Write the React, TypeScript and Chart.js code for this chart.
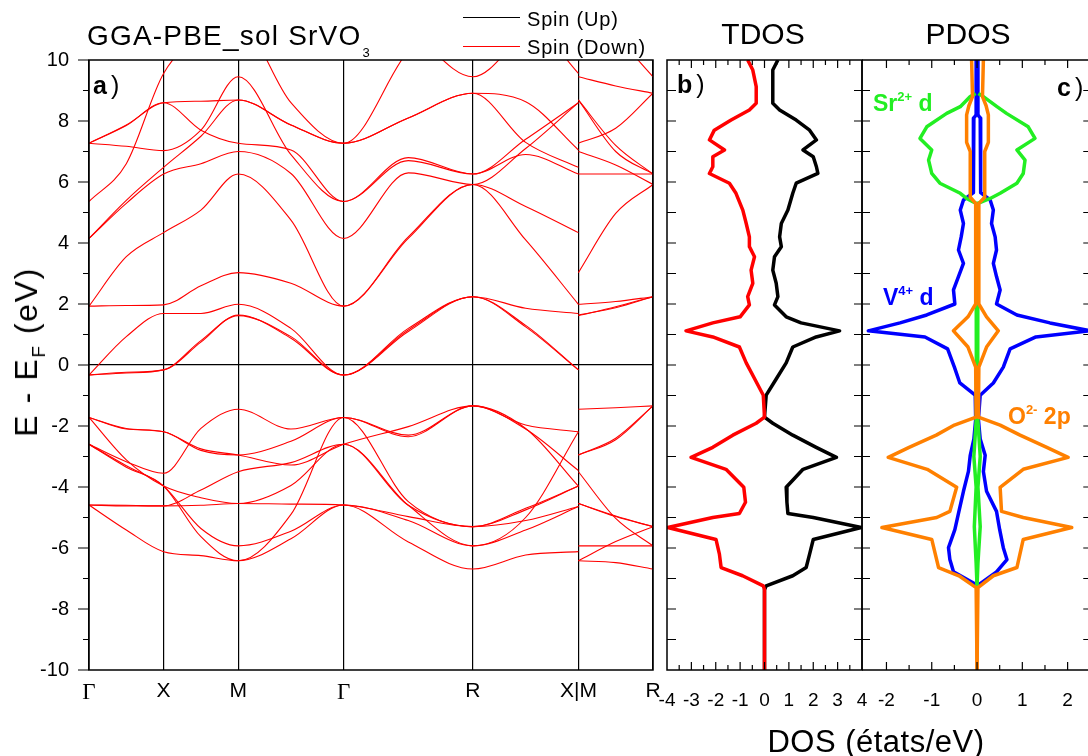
import React, { useEffect, useRef } from "react";
import { Chart, registerables } from "chart.js";
Chart.register(...registerables);

const SANS = '"Liberation Sans", Arial, Helvetica, sans-serif';
const NARROW = '"Liberation Sans Narrow", "Liberation Sans", Arial, sans-serif';
const SERIF = '"Liberation Serif", "Times New Roman", serif';
const RED = "#ff0000";
const GREEN = "#22ee22";
const BLUE = "#0000ff";
const ORANGE = "#ff8000";

// ---------- band structure: k-path Γ-X-M-Γ-R-X | M-R ----------
const kPathMain = [0, 0.5, 1, 1.5, 2, 2.707, 3.414, 4.28, 5.146, 5.853, 6.56];
const kPathMR = [6.56, 7.06, 7.56];
const kTickPos = [0, 1, 2, 3.414, 5.146, 6.56, 7.56];
const kTickLabels = ["Γ", "X", "M", "Γ", "R", "X|M", "R"];
const energyTicks = [10, 8, 6, 4, 2, 0, -2, -4, -6, -8, -10];

// energies (eV) at nodes: Γ, ½ΓX, X, ½XM, M, ½MΓ, Γ, ½ΓR, R, ½RX, X
const bandsMain: number[][] = [
  [-0.33, 0.93, 1.69, 1.69, 1.99, 1.2, -0.33, 1.2, 2.24, 1.86, 1.69],
  [-0.33, -0.26, -0.16, 0.8, 1.62, 0.93, -0.33, 1.15, 2.24, 1.3, -0.16],
  [-0.33, -0.24, -0.16, 0.75, 1.64, 0.88, -0.33, 1.1, 2.24, 1.25, -0.16],
  [1.93, 1.95, 1.97, 2.6, 3.03, 2.68, 1.93, 4.2, 5.92, 4.1, 1.99],
  [1.93, 3.55, 4.34, 5.08, 6.26, 4.75, 1.93, 4.15, 5.92, 5.2, 4.34],
  [4.15, 5.3, 6.26, 6.6, 7.0, 6.28, 4.15, 6.3, 5.92, 7.1, 8.6],
  [4.15, 5.4, 6.48, 7.5, 8.69, 7.87, 7.27, 8.1, 8.91, 7.3, 6.48],
  [5.36, 6.6, 9.56, 10.8, 11.2, 8.6, 7.27, 10.3, 12, 11.5, 9.56],
  [7.27, 7.17, 7.03, 7.7, 9.45, 6.9, 5.36, 6.8, 6.26, 7.4, 8.6],
  [7.27, 7.87, 8.6, 8.65, 8.69, 7.87, 7.27, 8.1, 8.91, 8.63, 7.05],
  [7.27, 7.85, 8.6, 7.7, 7.27, 7.05, 5.36, 6.7, 6.26, 6.9, 6.26],
  [12, 12, 12, 12, 12, 12, 12, 11.0, 9.45, 10.9, 12],
  [-1.72, -2.08, -2.19, -2.75, -2.95, -3.28, -2.6, -2.02, -1.34, -1.97, -2.19],
  [-1.72, -2.1, -2.19, -2.8, -2.95, -2.5, -1.72, -4.48, -5.3, -4.7, -3.97],
  [-2.6, -3.17, -3.55, -2.08, -1.45, -2.1, -1.72, -2.35, -1.34, -2.08, -3.97],
  [-1.72, -3.11, -3.97, -4.35, -4.54, -3.95, -2.6, -4.6, -5.93, -5.0, -2.19],
  [-2.6, -3.3, -3.97, -5.36, -5.93, -5.45, -4.59, -5.1, -5.93, -5.41, -4.64],
  [-2.6, -3.35, -3.97, -5.63, -6.42, -4.9, -1.72, -2.3, -1.34, -2.1, -3.46],
  [-4.59, -4.6, -4.62, -4.6, -4.54, -4.56, -4.59, -4.97, -5.3, -5.1, -4.64],
  [-4.59, -4.62, -4.62, -4.1, -3.5, -3.2, -2.6, -4.6, -5.3, -4.75, -3.97],
  [-4.59, -5.41, -6.12, -6.25, -6.42, -5.7, -4.59, -5.8, -6.69, -6.23, -6.12],
];

// energies (eV) at nodes: M, ½MR, R
const bandsMR: number[][] = [
  [1.99, 2.08, 2.24],
  [1.62, 1.91, 2.24],
  [1.64, 1.88, 2.24],
  [3.03, 4.97, 5.92],
  [6.26, 6.26, 6.26],
  [7.0, 6.56, 5.92],
  [8.69, 7.0, 6.26],
  [12, 10.8, 9.45],
  [9.45, 9.15, 8.91],
  [8.69, 7.2, 6.26],
  [7.27, 7.76, 8.91],
  [-2.95, -2.4, -1.34],
  [-2.95, -2.45, -1.34],
  [-1.45, -1.4, -1.34],
  [-4.54, -4.95, -5.3],
  [-5.93, -5.93, -5.93],
  [-6.42, -5.79, -5.3],
  [-4.54, -4.97, -5.3],
  [-3.5, -5.03, -5.93],
  [-6.42, -6.48, -6.69],
];

// ---------- TDOS ----------
const tdosEnergy = [10, 9.67, 9.13, 8.58, 8.36, 8.03, 7.7, 7.38, 7.05, 6.83, 6.5, 6.28, 5.96, 5.63, 5.08, 4.64, 4.2, 3.88, 3.55, 3.11, 2.68, 2.24, 1.97, 1.58, 1.38, 1.12, 0.92, 0.59, 0.07, -0.46, -0.99, -1.71, -1.91, -2.3, -2.7, -3.03, -3.42, -4.01, -4.5, -4.87, -5.0, -5.33, -5.72, -6.2, -6.64, -6.91, -7.24, -7.37, -10];
const tdosUp = [0.55, 0.34, 0.34, 0.34, 0.62, 1.3, 1.85, 2.13, 1.58, 2.0, 2.13, 2.19, 1.3, 1.16, 0.96, 0.69, 0.62, 0.69, 0.41, 0.34, 0.48, 0.55, 0.41, 0.89, 1.5, 3.08, 2.12, 1.16, 0.89, 0.48, 0.07, 0, 0.34, 1.16, 2.12, 2.95, 1.58, 0.89, 0.92, 0.96, 2.0, 3.97, 2.0, 1.85, 1.71, 1.16, 0.07, 0, 0];
const tdosDown = [-0.69, -0.48, -0.34, -0.34, -0.62, -1.37, -2.06, -2.26, -1.64, -2.12, -2.12, -2.26, -1.44, -1.17, -0.89, -0.75, -0.62, -0.62, -0.41, -0.55, -0.48, -0.69, -0.62, -1.0, -2.12, -3.22, -2.12, -1.03, -0.75, -0.4, -0.05, 0, -0.34, -1.3, -2.12, -3.01, -1.58, -0.85, -0.78, -1.03, -2.12, -3.97, -1.99, -1.85, -1.78, -0.9, -0.05, 0, 0];
const tdosTicks = [-4, -3, -2, -1, 0, 1, 2, 3, 4];

// ---------- PDOS ----------
const srEnergy = [8.9, 8.8, 8.47, 8.25, 7.81, 7.43, 7.05, 6.72, 6.28, 5.96, 5.63, 5.46, 5.3, 4.0, 2.0, 1.1, 0.0, -1.7, -3.0, -4.0, -5.3, -6.5, -7.25];
const srUp = [0.03, 0.14, 0.44, 0.65, 1.13, 1.28, 0.88, 1.06, 1.02, 0.88, 0.51, 0.29, 0.02, 0.02, 0.01, 0.02, 0.01, 0.01, 0.07, 0.02, 0.07, 0.02, 0];
const srDown = [-0.03, -0.15, -0.37, -0.67, -1.11, -1.26, -1.0, -1.07, -1.0, -0.82, -0.37, -0.23, -0.02, -0.02, -0.01, -0.02, -0.01, -0.01, -0.07, -0.02, -0.06, -0.02, 0];

const vEnergy = [10, 8.2, 8.1, 5.65, 5.41, 5.08, 4.64, 4.2, 3.77, 3.33, 2.9, 2.46, 2.0, 1.64, 1.38, 1.12, 0.92, 0.53, -0.07, -0.59, -0.99, -1.78, -2.43, -2.96, -3.49, -4.14, -4.8, -5.4, -5.99, -6.38, -6.78, -7.17, -7.3];
const vUp = [0.02, 0.02, 0.07, 0.08, 0.29, 0.36, 0.32, 0.4, 0.43, 0.36, 0.43, 0.51, 0.43, 0.88, 1.61, 2.5, 1.3, 0.73, 0.58, 0.36, 0.07, 0.03, 0.07, 0.18, 0.14, 0.21, 0.43, 0.5, 0.58, 0.66, 0.43, 0.07, 0];
const vDown = [-0.02, -0.02, -0.07, -0.08, -0.3, -0.37, -0.3, -0.35, -0.41, -0.3, -0.41, -0.52, -0.49, -1.11, -1.7, -2.4, -1.15, -0.65, -0.5, -0.38, -0.04, -0.03, -0.07, -0.15, -0.19, -0.3, -0.4, -0.49, -0.63, -0.6, -0.52, -0.05, 0];

const oEnergy = [10, 8.8, 8.5, 8.2, 7.3, 7.0, 5.5, 5.3, 2.0, 1.58, 1.12, 0.59, -0.07, -1.71, -1.97, -2.3, -2.7, -3.03, -3.42, -4.01, -4.8, -5.0, -5.33, -5.72, -6.64, -6.91, -7.3, -10];
const oUp = [0.14, 0.12, 0.2, 0.25, 0.25, 0.17, 0.17, 0.04, 0.04, 0.21, 0.47, 0.21, 0.04, 0.03, 0.51, 0.95, 1.54, 2.01, 1.02, 0.51, 0.54, 1.02, 2.09, 1.02, 0.88, 0.36, 0.02, 0];
const oDown = [-0.12, -0.1, -0.18, -0.23, -0.23, -0.15, -0.15, -0.03, -0.03, -0.2, -0.52, -0.2, -0.03, -0.02, -0.5, -0.9, -1.5, -1.96, -1.1, -0.45, -0.6, -0.89, -2.1, -1.0, -0.85, -0.4, -0.02, 0];
const pdosTicks = [-2, -1, 0, 1, 2];

// ---------- helpers ----------
function bandLine(ks: number[], es: number[]) {
  return {
    data: ks.map((k, i) => ({ x: k, y: es[i] })),
    showLine: true,
    borderColor: RED,
    borderWidth: 1.1,
    pointRadius: 0,
    fill: false,
    cubicInterpolationMode: "monotone",
  };
}

function dosLine(es: number[], vs: number[], color: string) {
  return {
    data: es.map((e, i) => ({ x: vs[i], y: e })),
    showLine: true,
    borderColor: color,
    borderWidth: 3.5,
    borderJoinStyle: "round",
    pointRadius: 0,
    fill: false,
    tension: 0,
  };
}

const TRANSPARENT = "rgba(0,0,0,0)";

const frameA = {
  id: "frameA",
  afterDraw(chart: any) {
    const { ctx, chartArea: a, scales } = chart;
    const y = scales.y;
    ctx.save();
    ctx.strokeStyle = "#000";
    ctx.lineWidth = 1.5;
    ctx.strokeRect(a.left, a.top, a.right - a.left, a.bottom - a.top);
    ctx.lineWidth = 1.2;
    ctx.beginPath();
    for (let v = -10; v <= 10; v += 1) {
      const py = y.getPixelForValue(v);
      const len = v % 2 === 0 ? 11 : 6;
      ctx.moveTo(a.left - len, py);
      ctx.lineTo(a.left, py);
    }
    ctx.stroke();
    ctx.restore();
  },
};

const frameB = {
  id: "frameB",
  afterDraw(chart: any) {
    const { ctx, chartArea: a, scales } = chart;
    const { x, y } = scales;
    ctx.save();
    ctx.strokeStyle = "#000";
    ctx.lineWidth = 1.5;
    ctx.strokeRect(a.left, a.top, a.right - a.left, a.bottom - a.top);
    ctx.lineWidth = 1.2;
    ctx.beginPath();
    for (let v = -9; v <= 9; v += 1) {
      const py = y.getPixelForValue(v);
      ctx.moveTo(a.left, py);
      ctx.lineTo(a.left + 9, py);
      ctx.moveTo(a.right - 8, py);
      ctx.lineTo(a.right + 8, py);
    }
    for (let t = -3.5; t <= 3.5; t += 0.5) {
      const px = x.getPixelForValue(t);
      const len = Number.isInteger(t) ? 8 : 5;
      ctx.moveTo(px, a.top);
      ctx.lineTo(px, a.top + len);
      ctx.moveTo(px, a.bottom);
      ctx.lineTo(px, a.bottom - len);
    }
    ctx.stroke();
    ctx.restore();
  },
};

const frameC = {
  id: "frameC",
  afterDraw(chart: any) {
    const { ctx, chartArea: a, scales } = chart;
    const { x, y } = scales;
    const rx = x.getPixelForValue(2.5);
    ctx.save();
    ctx.strokeStyle = "#000";
    ctx.lineWidth = 1.5;
    ctx.beginPath();
    ctx.moveTo(a.left, a.top);
    ctx.lineTo(rx, a.top);
    ctx.moveTo(a.left, a.bottom);
    ctx.lineTo(rx, a.bottom);
    ctx.moveTo(a.left, a.top);
    ctx.lineTo(a.left, a.bottom);
    ctx.moveTo(rx, a.top);
    ctx.lineTo(rx, a.bottom);
    ctx.stroke();
    ctx.lineWidth = 1.2;
    ctx.beginPath();
    for (let v = -9; v <= 9; v += 1) {
      const py = y.getPixelForValue(v);
      ctx.moveTo(rx - 7, py);
      ctx.lineTo(rx, py);
    }
    for (let t = -2; t <= 2; t += 0.5) {
      const px = x.getPixelForValue(t);
      const len = Number.isInteger(t) ? 8 : 5;
      ctx.moveTo(px, a.top);
      ctx.lineTo(px, a.top + len);
      ctx.moveTo(px, a.bottom);
      ctx.lineTo(px, a.bottom - len);
    }
    ctx.stroke();
    ctx.restore();
  },
};

const baseOptions = {
  animation: false,
  responsive: false,
  maintainAspectRatio: false,
  events: [],
  plugins: { legend: { display: false }, tooltip: { enabled: false } },
};

function configBands(): any {
  const datasets: any[] = [];
  bandsMain.forEach((b) => datasets.push(bandLine(kPathMain, b)));
  bandsMR.forEach((b) => datasets.push(bandLine(kPathMR, b)));
  return {
    type: "scatter",
    data: { datasets },
    options: {
      ...baseOptions,
      layout: { padding: { left: 0, right: 27, top: 60, bottom: 0 } },
      scales: {
        x: {
          type: "linear",
          min: 0,
          max: 7.56,
          afterBuildTicks: (s: any) => {
            s.ticks = kTickPos.map((v) => ({ value: v }));
          },
          afterFit: (s: any) => {
            s.height = 86;
          },
          ticks: {
            autoSkip: false,
            maxRotation: 0,
            minRotation: 0,
            padding: 0,
            color: "#000",
            callback: (_v: any, i: number) => kTickLabels[i],
            font: (c: any) =>
              kTickLabels[c.index] === "Γ" ? { family: SERIF, size: 23 } : { family: SANS, size: 21 },
          },
          grid: { color: "#000", lineWidth: 1.2, drawTicks: true, tickLength: 9, tickColor: TRANSPARENT },
          border: { display: false },
        },
        y: {
          type: "linear",
          min: -10,
          max: 10,
          afterBuildTicks: (s: any) => {
            s.ticks = energyTicks.map((v) => ({ value: v }));
          },
          afterFit: (s: any) => {
            s.width = 89;
          },
          ticks: { padding: 0, color: "#000", font: { family: SANS, size: 20 }, callback: (v: any) => String(v) },
          grid: {
            color: (c: any) => (c.tick && c.tick.value === 0 ? "#000" : TRANSPARENT),
            lineWidth: 1.3,
            drawTicks: true,
            tickLength: 20,
            tickColor: TRANSPARENT,
          },
          border: { display: false },
        },
      },
    },
    plugins: [frameA],
  };
}

function dosScales(min: number, max: number, ticks: number[]) {
  return {
    x: {
      type: "linear",
      min,
      max,
      afterBuildTicks: (s: any) => {
        s.ticks = ticks.map((v) => ({ value: v }));
      },
      afterFit: (s: any) => {
        s.height = 86;
      },
      ticks: {
        autoSkip: false,
        maxRotation: 0,
        minRotation: 0,
        padding: 0,
        color: "#000",
        font: { family: NARROW, size: 19 },
        callback: (v: any) => String(v),
      },
      grid: { color: TRANSPARENT, drawTicks: true, tickLength: 19, tickColor: TRANSPARENT },
      border: { display: false },
    },
    y: { type: "linear", min: -10, max: 10, display: false },
  };
}

function configTdos(): any {
  return {
    type: "scatter",
    data: {
      datasets: [dosLine(tdosEnergy, tdosDown, RED), dosLine(tdosEnergy, tdosUp, "#000")],
    },
    options: {
      ...baseOptions,
      layout: { padding: { left: 67, right: 18, top: 60, bottom: 0 } },
      scales: dosScales(-4, 4, tdosTicks),
    },
    plugins: [frameB],
  };
}

function configPdos(): any {
  // first dataset is drawn on top
  return {
    type: "scatter",
    data: {
      datasets: [
        dosLine(oEnergy, oUp, ORANGE),
        dosLine(oEnergy, oDown, ORANGE),
        dosLine(srEnergy, srUp, GREEN),
        dosLine(srEnergy, srDown, GREEN),
        dosLine(vEnergy, vUp, BLUE),
        dosLine(vEnergy, vDown, BLUE),
      ],
    },
    options: {
      ...baseOptions,
      layout: { padding: { left: 12, right: 0, top: 60, bottom: 0 } },
      scales: dosScales(-2.54, 2.45, pdosTicks),
    },
    plugins: [frameC],
  };
}

const abs = (s: React.CSSProperties): React.CSSProperties => ({
  position: "absolute",
  whiteSpace: "nowrap",
  lineHeight: 1,
  ...s,
});

export default function App() {
  const refA = useRef<HTMLCanvasElement>(null);
  const refB = useRef<HTMLCanvasElement>(null);
  const refC = useRef<HTMLCanvasElement>(null);

  useEffect(() => {
    const charts: Chart[] = [];
    if (refA.current) charts.push(new Chart(refA.current, configBands()));
    if (refB.current) charts.push(new Chart(refB.current, configTdos()));
    if (refC.current) charts.push(new Chart(refC.current, configPdos()));
    return () => charts.forEach((c) => c.destroy());
  }, []);

  const sup = (top: number, size = 13): React.CSSProperties => ({
    fontSize: size,
    position: "relative",
    top,
    fontWeight: "bold",
  });

  return (
    <div
      style={{
        position: "absolute",
        left: 0,
        top: 0,
        width: 1088,
        height: 756,
        overflow: "hidden",
        background: "#fff",
        fontFamily: SANS,
        color: "#000",
      }}
    >
      <canvas ref={refA} width={680} height={756} style={{ position: "absolute", left: 0, top: 0, width: 680, height: 756 }} />
      <canvas ref={refB} width={280} height={756} style={{ position: "absolute", left: 600, top: 0, width: 280, height: 756 }} />
      <canvas ref={refC} width={238} height={756} style={{ position: "absolute", left: 850, top: 0, width: 238, height: 756 }} />

      {/* title */}
      <div style={abs({ left: 87, top: 22, fontSize: 28, letterSpacing: "1.2px" })}>
        GGA-PBE_sol SrVO<span style={{ fontSize: 13, position: "relative", top: 12, marginLeft: 1 }}>3</span>
      </div>

      {/* legend */}
      <div style={abs({ left: 463, top: 17, width: 57, height: 0, borderTop: "1.5px solid #000" })} />
      <div style={abs({ left: 527, top: 9, fontSize: 20, letterSpacing: "0.8px" })}>Spin (Up)</div>
      <div style={abs({ left: 463, top: 46, width: 57, height: 0, borderTop: "1.5px solid " + RED })} />
      <div style={abs({ left: 527, top: 37, fontSize: 20, letterSpacing: "0.8px" })}>Spin (Down)</div>

      {/* panel titles */}
      <div style={abs({ left: 703, top: 19, width: 120, textAlign: "center", fontSize: 30 })}>TDOS</div>
      <div style={abs({ left: 908, top: 19, width: 120, textAlign: "center", fontSize: 30 })}>PDOS</div>

      {/* panel letters */}
      <div style={abs({ left: 93, top: 73, fontSize: 25 })}>
        <b>a</b>
        <span style={{ marginLeft: 4 }}>)</span>
      </div>
      <div style={abs({ left: 677, top: 72, fontSize: 25 })}>
        <b>b</b>
        <span style={{ marginLeft: 4 }}>)</span>
      </div>
      <div style={abs({ left: 1057, top: 75, fontSize: 25 })}>
        <b>c</b>
        <span style={{ marginLeft: 4 }}>)</span>
      </div>

      {/* PDOS species labels */}
      <div style={abs({ left: 873, top: 92, fontSize: 23, fontWeight: "bold", color: GREEN })}>
        Sr<span style={sup(-10)}>2+</span> d
      </div>
      <div style={abs({ left: 883, top: 286, fontSize: 23, fontWeight: "bold", color: BLUE })}>
        V<span style={sup(-10)}>4+</span> d
      </div>
      <div style={abs({ left: 1008, top: 405, fontSize: 23, fontWeight: "bold", color: ORANGE })}>
        O<span style={sup(-10)}>2-</span> 2p
      </div>

      {/* axis titles */}
      <div
        style={abs({
          left: 26,
          top: 352,
          transform: "translate(-50%, -50%) rotate(-90deg)",
          fontSize: 32,
          letterSpacing: "1.6px",
        })}
      >
        E - E<span style={{ fontSize: 19, position: "relative", top: 8 }}>F</span> (eV)
      </div>
      <div style={abs({ left: 876, top: 726, transform: "translateX(-50%)", fontSize: 31, letterSpacing: "0.5px" })}>
        DOS (états/eV)
      </div>
    </div>
  );
}
